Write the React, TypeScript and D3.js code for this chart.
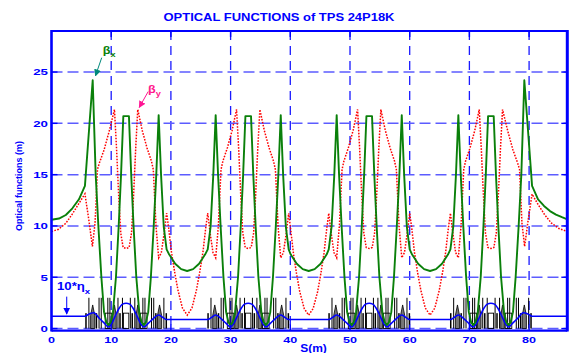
import React from "react";
import * as d3 from "d3";

const W = 569;
const H = 353;

const xTicks = [0, 10, 20, 30, 40, 50, 60, 70, 80];
const yTicks = [0, 5, 10, 15, 20, 25];

// beta_x (m) vs s (m)
const betaX: [number, number][] = [
  [0, 10.6], [1.25, 10.72], [2.4, 11.07], [3.5, 11.72], [4.6, 12.6], [5.6, 13.9],
  [6.9, 24.2], [7.4, 15.0], [7.85, 10.0], [8.35, 5.05], [8.8, 1.6], [9.2, 0.6], [9.55, 0.34], [9.9, 0.6], [10.3, 1.6], [10.8, 5.05], [11.25, 9.94], [11.65, 15.0], [12.03, 20.7], [12.97, 20.7], [13.35, 15.0], [13.75, 9.94], [14.2, 5.05], [14.7, 1.6], [15.1, 0.6], [15.45, 0.34], [15.8, 0.6], [16.2, 1.6], [16.65, 5.05], [17.12, 9.94], [17.55, 15.0], [17.95, 20.8], [18.35, 15.0], [18.8, 9.94], [19.28, 7.72],
  [19.72, 7.21], [20.72, 6.32], [21.72, 5.79], [22.72, 5.61], [23.72, 5.79], [24.72, 6.32], [25.72, 7.21], [26.17, 7.72],
  [26.65, 9.94], [27.1, 15.0], [27.5, 20.8], [27.9, 15.0], [28.33, 9.94], [28.8, 5.05], [29.25, 1.6], [29.65, 0.6], [30.0, 0.34], [30.35, 0.6], [30.75, 1.6], [31.25, 5.05], [31.7, 9.94], [32.1, 15.0], [32.48, 20.7], [33.42, 20.7], [33.8, 15.0], [34.2, 9.94], [34.65, 5.05], [35.15, 1.6], [35.55, 0.6], [35.9, 0.34], [36.25, 0.6], [36.65, 1.6], [37.1, 5.05], [37.57, 9.94], [38.0, 15.0], [38.4, 20.8], [38.8, 15.0], [39.25, 9.94], [39.73, 7.72],
  [40.08, 7.21], [41.08, 6.32], [42.08, 5.79], [43.08, 5.61], [44.08, 5.79], [45.08, 6.32], [46.08, 7.21], [46.44, 7.72],
  [46.92, 9.94], [47.37, 15.0], [47.77, 20.8], [48.17, 15.0], [48.6, 9.94], [49.07, 5.05], [49.52, 1.6], [49.92, 0.6], [50.27, 0.34], [50.62, 0.6], [51.02, 1.6], [51.52, 5.05], [51.97, 9.94], [52.37, 15.0], [52.75, 20.7], [53.69, 20.7], [54.07, 15.0], [54.47, 9.94], [54.92, 5.05], [55.42, 1.6], [55.82, 0.6], [56.17, 0.34], [56.52, 0.6], [56.92, 1.6], [57.37, 5.05], [57.84, 9.94], [58.27, 15.0], [58.67, 20.8], [59.07, 15.0], [59.52, 9.94], [60.0, 7.72],
  [60.41, 7.21], [61.41, 6.32], [62.41, 5.79], [63.41, 5.61], [64.41, 5.79], [65.41, 6.32], [66.41, 7.21], [66.82, 7.72],
  [67.3, 9.94], [67.75, 15.0], [68.15, 20.8], [68.55, 15.0], [68.98, 9.94], [69.45, 5.05], [69.9, 1.6], [70.3, 0.6], [70.65, 0.34], [71.0, 0.6], [71.4, 1.6], [71.9, 5.05], [72.35, 9.94], [72.75, 15.0], [73.13, 20.7], [74.07, 20.7], [74.45, 15.0], [74.85, 9.94], [75.3, 5.05], [75.8, 1.6], [76.2, 0.6], [76.55, 0.34], [76.9, 0.6], [77.3, 1.6], [77.75, 5.05], [78.25, 10.0], [78.7, 15.0], [79.2, 24.2], [80.5, 13.9],
  [81.5, 12.6], [82.5, 11.95], [83.5, 11.45], [84.5, 11.1], [85.5, 10.85], [86.4, 10.65],
];

// beta_y (m) vs s (m)
const betaY: [number, number][] = [
  [0, 9.45], [1.2, 9.68], [2.4, 10.26], [3.5, 11.17], [4.6, 12.2], [5.6, 13.13],
  [6.25, 10.6], [6.85, 8.0], [7.3, 10.3], [7.7, 15.5], [8.0, 16.1], [8.8, 17.4], [9.65, 19.2], [10.55, 21.35], [10.9, 17.5], [11.25, 13.0], [11.6, 9.3], [12.0, 7.9], [12.5, 7.8], [13.0, 7.9], [13.4, 9.3], [13.75, 13.0], [14.1, 17.5], [14.45, 21.35], [15.2, 19.3], [16.0, 17.6], [16.75, 16.3], [17.05, 15.5], [17.5, 10.0], [17.95, 6.9], [18.4, 7.4], [18.85, 9.2], [19.28, 11.24],
  [19.63, 9.8], [20.08, 7.5], [20.63, 5.5], [21.18, 3.75], [21.93, 2.0], [22.73, 1.31], [23.53, 2.0], [24.28, 3.75], [24.83, 5.5], [25.38, 7.5], [25.83, 9.8], [26.17, 11.24],
  [26.6, 9.2], [27.05, 7.4], [27.5, 6.9], [27.95, 10.0], [28.4, 15.5], [28.7, 16.3], [29.45, 17.6], [30.25, 19.3], [31.0, 21.35], [31.35, 17.5], [31.7, 13.0], [32.05, 9.3], [32.45, 7.9], [32.95, 7.8], [33.45, 7.9], [33.85, 9.3], [34.2, 13.0], [34.55, 17.5], [34.9, 21.35], [35.65, 19.3], [36.45, 17.6], [37.2, 16.3], [37.5, 15.5], [37.95, 10.0], [38.4, 6.9], [38.85, 7.4], [39.3, 9.2], [39.73, 11.24],
  [40.08, 9.6], [40.53, 7.3], [41.03, 5.4], [41.58, 3.6], [42.33, 1.95], [43.08, 1.31], [43.83, 1.95], [44.58, 3.6], [45.13, 5.4], [45.63, 7.3], [46.08, 9.6], [46.44, 11.24],
  [46.87, 9.2], [47.32, 7.4], [47.77, 6.9], [48.22, 10.0], [48.67, 15.5], [48.97, 16.3], [49.72, 17.6], [50.52, 19.3], [51.27, 21.35], [51.62, 17.5], [51.97, 13.0], [52.32, 9.3], [52.72, 7.9], [53.22, 7.8], [53.72, 7.9], [54.12, 9.3], [54.47, 13.0], [54.82, 17.5], [55.17, 21.35], [55.92, 19.3], [56.72, 17.6], [57.47, 16.3], [57.77, 15.5], [58.22, 10.0], [58.67, 6.9], [59.12, 7.4], [59.57, 9.2], [60.0, 11.24],
  [60.36, 9.7], [60.81, 7.4], [61.31, 5.5], [61.86, 3.75], [62.61, 2.0], [63.41, 1.31], [64.21, 2.0], [64.96, 3.75], [65.51, 5.5], [66.01, 7.4], [66.46, 9.7], [66.82, 11.24],
  [67.25, 9.2], [67.7, 7.4], [68.15, 6.9], [68.6, 10.0], [69.05, 15.5], [69.35, 16.3], [70.1, 17.6], [70.9, 19.3], [71.65, 21.35], [72.0, 17.5], [72.35, 13.0], [72.7, 9.3], [73.1, 7.9], [73.6, 7.8], [74.1, 7.9], [74.5, 9.3], [74.85, 13.0], [75.2, 17.5], [75.55, 21.35], [76.45, 19.2], [77.3, 17.4], [78.1, 16.1], [78.4, 15.5], [78.8, 10.3], [79.25, 8.0], [79.85, 10.6], [80.5, 13.1],
  [81.5, 12.1], [82.6, 11.1], [83.7, 10.3], [85.0, 9.75], [86.4, 9.45],
];

// 10 * eta_x (m) vs s (m)
const etaX10: [number, number][] = [
  [0, 1.2], [5.6, 1.2], [6.3, 1.42], [7.1, 1.54], [8.0, 1.0], [8.8, 0.55], [9.55, 0.15], [10.1, 0.5], [10.7, 1.25], [11.3, 1.95], [11.9, 2.38], [12.5, 2.46], [13.1, 2.38], [13.7, 1.95], [14.3, 1.25], [14.9, 0.5], [15.45, 0.15], [16.2, 0.5], [17.0, 0.95], [17.95, 1.32], [18.6, 1.1], [19.28, 0.88],
  [26.17, 0.88], [26.85, 1.1], [27.5, 1.32], [28.45, 0.95], [29.25, 0.5], [30.0, 0.15], [30.55, 0.5], [31.15, 1.25], [31.75, 1.95], [32.35, 2.38], [32.95, 2.46], [33.55, 2.38], [34.15, 1.95], [34.75, 1.25], [35.35, 0.5], [35.9, 0.15], [36.65, 0.5], [37.45, 0.95], [38.4, 1.32], [39.05, 1.1], [39.73, 0.88],
  [46.44, 0.88], [47.12, 1.1], [47.77, 1.32], [48.72, 0.95], [49.52, 0.5], [50.27, 0.15], [50.82, 0.5], [51.42, 1.25], [52.02, 1.95], [52.62, 2.38], [53.22, 2.46], [53.82, 2.38], [54.42, 1.95], [55.02, 1.25], [55.62, 0.5], [56.17, 0.15], [56.92, 0.5], [57.72, 0.95], [58.67, 1.32], [59.32, 1.1], [60.0, 0.88],
  [66.82, 0.88], [67.5, 1.1], [68.15, 1.32], [69.1, 0.95], [69.9, 0.5], [70.65, 0.15], [71.2, 0.5], [71.8, 1.25], [72.4, 1.95], [73.0, 2.38], [73.6, 2.46], [74.2, 2.38], [74.8, 1.95], [75.4, 1.25], [76.0, 0.5], [76.55, 0.15], [77.3, 0.55], [78.1, 1.0], [79.0, 1.54], [79.8, 1.42], [80.5, 1.2], [86.4, 1.2],
];

// lattice: arc centres (m) and magnet layout within one arc [from, to, height, kind]
const arcCenters = [12.5, 32.95, 53.22, 73.6];
const cellMagnets: [number, number, number, string][] = [
  [-6.85, -6.6, 1.5, "q"], [-6.32, -6.24, 3.0, "q"], [-5.95, -5.25, 2.3, "t"], [-5.1, -4.85, 1.5, "q"],
  [-4.62, -4.54, 3.0, "q"], [-4.25, -4.17, 3.0, "q"], [-3.5, -2.4, 1.5, "b"], [-3.15, -3.07, 3.0, "q"],
  [-2.8, -2.72, 3.0, "q"], [-2.25, -1.65, 2.3, "t"], [-1.45, -1.37, 3.0, "q"], [-1.15, -0.9, 1.5, "q"],
  [-0.7, -0.62, 3.0, "q"], [-0.45, 0.45, 1.5, "b"],
  [0.62, 0.7, 3.0, "q"], [0.9, 1.15, 1.5, "q"], [1.37, 1.45, 3.0, "q"], [1.65, 2.25, 2.3, "t"],
  [2.72, 2.8, 3.0, "q"], [3.07, 3.15, 3.0, "q"], [2.4, 3.5, 1.5, "b"], [4.17, 4.25, 3.0, "q"],
  [4.54, 4.62, 3.0, "q"], [4.85, 5.1, 1.5, "q"], [5.25, 5.95, 2.3, "t"], [6.24, 6.32, 3.0, "q"],
  [6.6, 6.85, 1.5, "q"],
];

const FONT = "'Liberation Sans', Arial, Helvetica, sans-serif";
const BLUE = "#0000ff";
const GREEN = "#0a800a";

export default function App() {
  const x = d3.scaleLinear().domain([0, 86.4]).range([51.5, 567.3]);
  const y = d3.scaleLinear().domain([-0.2, 29]).range([330.6, 31]);
  const [x0, x1] = x.range();
  const [yb, yt] = y.range();

  const line = d3
    .line<[number, number]>()
    .x((d) => x(d[0]))
    .y((d) => y(d[1]))
    .curve(d3.curveLinear);
  const smooth = d3
    .line<[number, number]>()
    .x((d) => x(d[0]))
    .y((d) => y(d[1]))
    .curve(d3.curveMonotoneX);

  const magnets: { a: number; b: number; h: number; k: string }[] = [];
  arcCenters.forEach((c) =>
    cellMagnets.forEach(([a, b, h, k]) => magnets.push({ a: c + a, b: c + b, h, k }))
  );

  const txt = (
    key: string,
    px: number,
    py: number,
    content: React.ReactNode,
    size: number,
    fill: string,
    sx: number,
    anchor: "start" | "middle" | "end" = "middle"
  ) => (
    <text
      key={key}
      transform={`translate(${px},${py}) scale(${sx},1)`}
      textAnchor={anchor}
      fontFamily={FONT}
      fontWeight="bold"
      fontSize={size}
      fill={fill}
    >
      {content}
    </text>
  );

  return (
    <svg
      width={W}
      height={H}
      viewBox={`0 0 ${W} ${H}`}
      style={{ position: "absolute", left: 0, top: 0, display: "block", background: "#fff" }}
    >
      <defs>
        <marker id="ahG" viewBox="0 0 10 10" refX="9" refY="5" markerWidth="7" markerHeight="7" orient="auto">
          <path d="M0,0 L10,5 L0,10 z" fill="#00897b" />
        </marker>
        <marker id="ahP" viewBox="0 0 10 10" refX="9" refY="5" markerWidth="7" markerHeight="7" orient="auto">
          <path d="M0,0 L10,5 L0,10 z" fill="#ff1493" />
        </marker>
        <marker id="ahB" viewBox="0 0 10 10" refX="9" refY="5" markerWidth="7" markerHeight="7" orient="auto">
          <path d="M0,0 L10,5 L0,10 z" fill={BLUE} />
        </marker>
        <clipPath id="plot">
          <rect x={x0} y={yt} width={x1 - x0} height={yb - yt} />
        </clipPath>
      </defs>

      {/* title */}
      {txt("title", 279, 20.7, "OPTICAL FUNCTIONS of TPS 24P18K", 11, BLUE, 1.18)}

      {/* grid */}
      {xTicks.filter((t) => t > 0).map((t) => (
        <line key={"gx" + t} x1={x(t)} x2={x(t)} y1={yt} y2={yb} stroke="#1a1aff" strokeWidth={1.3} strokeDasharray="9,6" />
      ))}
      {yTicks.map((t) => (
        <line key={"gy" + t} x1={x0} x2={x1} y1={y(t)} y2={y(t)} stroke="#5c5cff" strokeWidth={1.5} strokeDasharray="11,5" />
      ))}

      <g clipPath="url(#plot)">
        {/* lattice magnets */}
        {magnets.map((m, i) => {
          const xa = x(m.a);
          const xb = x(m.b);
          const w = Math.max(1, xb - xa);
          if (m.k === "t") {
            const xm = (xa + xb) / 2;
            return (
              <path
                key={"m" + i}
                d={`M${xa},${y(0)} L${xa},${y(m.h * 0.55)} L${xm},${y(m.h)} L${xb},${y(m.h * 0.55)} L${xb},${y(0)} Z`}
                fill="#777"
                stroke="#000"
                strokeWidth={0.8}
              />
            );
          }
          if (m.k === "b") {
            return (
              <rect key={"m" + i} x={xa} y={y(m.h)} width={w} height={y(0) - y(m.h)} fill="none" stroke="#000" strokeWidth={0.9} />
            );
          }
          return <rect key={"m" + i} x={xa} y={y(m.h)} width={w} height={y(0) - y(m.h)} fill="#000" />;
        })}

        {/* dispersion */}
        <path d={smooth(etaX10) || ""} fill="none" stroke={BLUE} strokeWidth={1.6} />
        {/* beta y */}
        <path d={line(betaY) || ""} fill="none" stroke="#ff0000" strokeWidth={1.5} strokeDasharray="1.6,1.4" />
        {/* beta x */}
        <path d={line(betaX) || ""} fill="none" stroke={GREEN} strokeWidth={1.9} strokeLinejoin="round" />
      </g>

      {/* frame */}
      <line x1={x0} x2={x1} y1={yt} y2={yt} stroke={BLUE} strokeWidth={2} />
      <line x1={x0} x2={x1} y1={yb} y2={yb} stroke={BLUE} strokeWidth={2.2} />
      <line x1={x0} x2={x0} y1={yt - 1} y2={yb + 1} stroke={BLUE} strokeWidth={2.6} />
      <line x1={x1} x2={x1} y1={yt - 1} y2={yb + 1} stroke={BLUE} strokeWidth={3} />

      {/* ticks */}
      {xTicks.filter((t) => t > 0).map((t) => (
        <g key={"tx" + t}>
          <line x1={x(t)} x2={x(t)} y1={yt} y2={yt + 6} stroke={BLUE} strokeWidth={1.4} />
          <line x1={x(t)} x2={x(t)} y1={yb} y2={yb - 6} stroke={BLUE} strokeWidth={1.4} />
        </g>
      ))}
      {yTicks.map((t) => (
        <g key={"ty" + t}>
          <line x1={x0} x2={x0 + 6} y1={y(t)} y2={y(t)} stroke={BLUE} strokeWidth={1.4} />
          <line x1={x1} x2={x1 - 6} y1={y(t)} y2={y(t)} stroke={BLUE} strokeWidth={1.4} />
        </g>
      ))}

      {/* tick labels */}
      {xTicks.map((t) => txt("xl" + t, x(t), 342.5, String(t), 9, BLUE, 1.4))}
      {yTicks.map((t) => txt("yl" + t, x0 - 3.5, y(t) + 3.4, String(t), 9.5, BLUE, 1.4, "end"))}

      {/* axis titles */}
      {txt("xt", 313.5, 352, "S(m)", 10, BLUE, 1.2)}
      <text
        transform={`translate(22,186) rotate(-90)`}
        textAnchor="middle"
        fontFamily={FONT}
        fontWeight="bold"
        fontSize={9}
        fill={BLUE}
      >
        Optical functions (m)
      </text>

      {/* annotations */}
      <line x1={x(8.41)} y1={y(26.4)} x2={x(7.37)} y2={y(24.64)} stroke="#00897b" strokeWidth={1} markerEnd="url(#ahG)" />
      {txt(
        "bx",
        x(8.6),
        y(26.8),
        <>
          β<tspan fontSize={8} dy={3.5}>x</tspan>
        </>,
        11,
        GREEN,
        1.15,
        "start"
      )}
      <line x1={x(16.2)} y1={y(23.1)} x2={x(14.7)} y2={y(21.55)} stroke="#ff1493" strokeWidth={1} markerEnd="url(#ahP)" />
      {txt(
        "by",
        x(16.16),
        y(22.98),
        <>
          β<tspan fontSize={8} dy={3}>y</tspan>
        </>,
        11,
        "#ff1a8c",
        1.15,
        "start"
      )}
      <line x1={x(2.55)} y1={y(3.11)} x2={x(2.55)} y2={y(1.42)} stroke={BLUE} strokeWidth={1} markerEnd="url(#ahB)" />
      {txt(
        "eta",
        x(0.92),
        y(3.73),
        <>
          10*η<tspan fontSize={8} dy={3.5}>x</tspan>
        </>,
        11,
        BLUE,
        1.2,
        "start"
      )}
    </svg>
  );
}
